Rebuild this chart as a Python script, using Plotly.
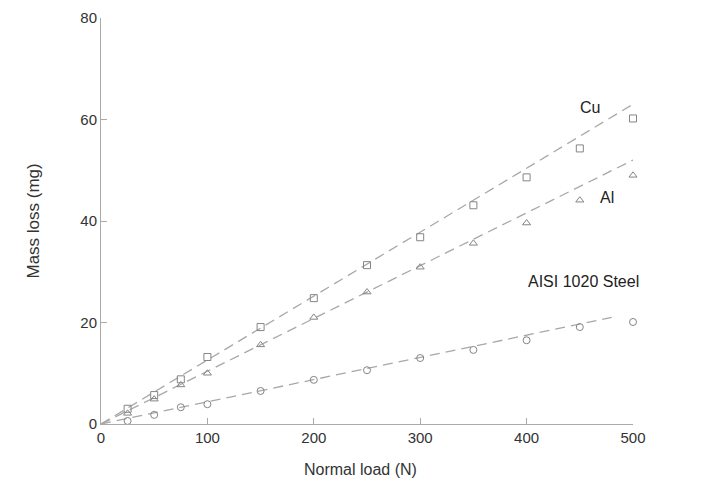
import plotly.graph_objects as go

# Data
load_n = [25, 50, 75, 100, 150, 200, 250, 300, 350, 400, 450, 500]
cu_mass = [3.0, 5.7, 8.8, 13.2, 19.1, 24.8, 31.3, 36.8, 43.1, 48.6, 54.3, 60.2]
al_mass = [2.1, 4.9, 7.7, 10.0, 15.6, 21.0, 26.0, 30.9, 35.6, 39.6, 44.1, 49.0]
steel_mass = [0.6, 1.8, 3.3, 3.9, 6.5, 8.7, 10.6, 13.0, 14.6, 16.5, 19.1, 20.1]

# Linear fit lines (end points)
cu_fit_x = [0, 500]
cu_fit_y = [0, 63]
al_fit_x = [0, 500]
al_fit_y = [0, 52]
steel_fit_x = [0, 480]
steel_fit_y = [0, 21]

x_ticks = [0, 100, 200, 300, 400, 500]
y_ticks = [0, 20, 40, 60, 80]

labels = ["Cu", "Al"]
label_x = [460, 476]
label_y = [62.4, 44.7]
steel_label = "AISI 1020 Steel"

FONT = "Liberation Sans, Arial, Helvetica, sans-serif"
LINE_C = "#a8a8a8"
MARK_C = "#858585"

fig = go.Figure()

for fx, fy in [(cu_fit_x, cu_fit_y), (al_fit_x, al_fit_y), (steel_fit_x, steel_fit_y)]:
    fig.add_trace(go.Scatter(x=fx, y=fy, mode="lines",
                             line=dict(color=LINE_C, width=1.3, dash="10px,6px"),
                             showlegend=False, hoverinfo="skip"))

for ys, sym in [(cu_mass, "square-open"), (al_mass, "triangle-up-open"), (steel_mass, "circle-open")]:
    fig.add_trace(go.Scatter(x=load_n, y=ys, mode="markers",
                             marker=dict(symbol=sym, size=7, color=MARK_C,
                                         line=dict(width=1, color=MARK_C)),
                             showlegend=False, cliponaxis=False))

for t, lx, ly in zip(labels, label_x, label_y):
    fig.add_annotation(x=lx, y=ly, xref="x", yref="y", text=t, showarrow=False,
                       font=dict(family=FONT, size=16, color="#222222"))

fig.add_annotation(x=1.015, y=0.325, xref="paper", yref="paper", text=steel_label,
                   showarrow=False, font=dict(family=FONT, size=16, color="#222222"))

fig.add_annotation(x=0.487, y=-0.138, xref="paper", yref="paper", text="Normal load (N)",
                   showarrow=False, font=dict(family=FONT, size=16, color="#333333"))
fig.add_annotation(x=-0.1485, y=0.5, xref="paper", yref="paper", text="Mass loss (mg)",
                   textangle=-90, showarrow=False,
                   font=dict(family=FONT, size=17, color="#333333"))

fig.update_layout(
    width=717, height=491,
    margin=dict(l=93, r=92, t=10, b=75, autoexpand=False),
    paper_bgcolor="white", plot_bgcolor="white",
    font=dict(family=FONT, size=15, color="#333333"),
    xaxis=dict(range=[0, 500], tickvals=x_ticks, ticks="inside", ticklen=6,
               tickcolor="#aaaaaa", showline=True, linecolor="#aaaaaa", linewidth=1,
               showgrid=False, zeroline=False),
    yaxis=dict(range=[0, 80], tickvals=y_ticks, ticks="inside", ticklen=6,
               tickcolor="#aaaaaa", showline=True, linecolor="#aaaaaa", linewidth=1,
               showgrid=False, zeroline=False),
)

fig.write_html("out.html")
